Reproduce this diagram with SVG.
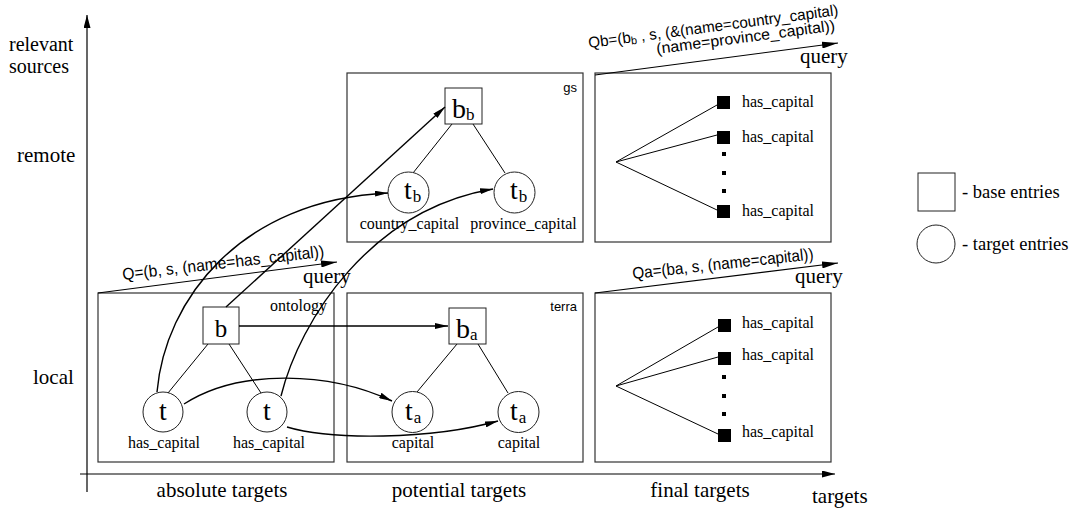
<svg xmlns="http://www.w3.org/2000/svg" width="1075" height="508" viewBox="0 0 1075 508">
<defs>
<marker id="ah" markerUnits="userSpaceOnUse" markerWidth="14" markerHeight="6" refX="13" refY="3" orient="auto"><path d="M0,0 L13,3 L0,6 Z" fill="#000"/></marker>
<marker id="qh" markerUnits="userSpaceOnUse" markerWidth="17" markerHeight="7" refX="16" refY="3.5" orient="auto"><path d="M0,0 L16,3.5 L0,7 Z" fill="#000"/></marker>
<marker id="xh" markerUnits="userSpaceOnUse" markerWidth="14" markerHeight="7" refX="13" refY="3.5" orient="auto"><path d="M0,0 L13,3.5 L0,7 Z" fill="#000"/></marker>
<style>
.box{fill:none;stroke:#333;stroke-width:1.2}
.node{fill:#fff;stroke:#222;stroke-width:1}
.edge{fill:none;stroke:#000;stroke-width:1}
.conn{fill:none;stroke:#000;stroke-width:1.4;marker-end:url(#ah)}
.qline{fill:none;stroke:#000;stroke-width:1.2;marker-end:url(#qh)}
.axis{fill:none;stroke:#000;stroke-width:1.2;marker-end:url(#xh)}
.tm{font-family:'Liberation Serif','Times New Roman',serif;fill:#000}
.hv{font-family:'Liberation Sans',Arial,sans-serif;fill:#000}
.ax{font-size:21px}
.lbl{font-size:16px}
.nt{font-size:28px}
.sub{font-size:17px}
.q{font-size:16.5px}
.res{fill:#000}
</style>
</defs>
<rect width="1075" height="508" fill="#fff"/>

<g id="axes">
<line class="axis" x1="87" y1="492" x2="87" y2="15"/>
<line class="axis" x1="80" y1="474" x2="835" y2="474"/>
<text class="tm" font-size="20" x="9" y="51">relevant</text>
<text class="tm" font-size="20" x="9" y="73">sources</text>
<text class="tm ax" x="17" y="162">remote</text>
<text class="tm ax" x="33" y="384">local</text>
<text class="tm ax" x="222" y="497" text-anchor="middle">absolute targets</text>
<text class="tm ax" x="459" y="497" text-anchor="middle">potential targets</text>
<text class="tm ax" x="700" y="497" text-anchor="middle">final targets</text>
<text class="tm ax" x="812" y="503">targets</text>
</g>

<g id="box-ontology">
<rect class="box" x="98" y="293" width="236" height="169"/>
<text class="tm lbl" x="327" y="311" text-anchor="end">ontology</text>
</g>
<g id="box-terra">
<rect class="box" x="347" y="293" width="236" height="169"/>
<text class="hv" font-size="13" x="577" y="311" text-anchor="end">terra</text>
</g>
<g id="box-gs">
<rect class="box" x="347" y="73" width="236" height="169"/>
<text class="hv" font-size="13" x="577" y="92" text-anchor="end">gs</text>
</g>
<g id="box-final-remote">
<rect class="box" x="595" y="73" width="236" height="169"/>
<line class="edge" x1="616" y1="162" x2="717" y2="105"/>
<line class="edge" x1="616" y1="162" x2="717" y2="135"/>
<line class="edge" x1="616" y1="162" x2="717" y2="210"/>
<rect class="res" x="717" y="96" width="13" height="13"/>
<rect class="res" x="717" y="131" width="13" height="13"/>
<rect class="res" x="717" y="205" width="13" height="13"/>
<rect class="res" x="722" y="152" width="4" height="4"/>
<rect class="res" x="722" y="171" width="4" height="4"/>
<rect class="res" x="722" y="189" width="4" height="4"/>
<text class="tm lbl" x="742" y="107">has_capital</text>
<text class="tm lbl" x="742" y="142">has_capital</text>
<text class="tm lbl" x="742" y="216">has_capital</text>
</g>
<g id="box-final-local">
<rect class="box" x="595" y="293" width="236" height="169"/>
<line class="edge" x1="616" y1="386" x2="718" y2="327"/>
<line class="edge" x1="616" y1="386" x2="718" y2="357"/>
<line class="edge" x1="616" y1="386" x2="718" y2="434"/>
<rect class="res" x="718" y="319" width="13" height="13"/>
<rect class="res" x="718" y="352" width="13" height="13"/>
<rect class="res" x="718" y="429" width="13" height="13"/>
<rect class="res" x="722" y="375" width="4" height="4"/>
<rect class="res" x="722" y="394" width="4" height="4"/>
<rect class="res" x="722" y="412" width="4" height="4"/>
<text class="tm lbl" x="742" y="328">has_capital</text>
<text class="tm lbl" x="742" y="360">has_capital</text>
<text class="tm lbl" x="742" y="437">has_capital</text>
</g>

<g id="tree-edges">
<line class="edge" x1="208" y1="344" x2="168" y2="393"/>
<line class="edge" x1="229" y1="344" x2="261" y2="393"/>
<line class="edge" x1="457" y1="344" x2="417" y2="392"/>
<line class="edge" x1="478" y1="344" x2="508" y2="393"/>
<line class="edge" x1="452" y1="124" x2="413" y2="173"/>
<line class="edge" x1="473" y1="124" x2="505" y2="173"/>
</g>

<g id="node-b">
<rect class="node" x="203" y="307" width="36" height="37"/>
<text class="tm" font-size="25" x="221" y="337" text-anchor="middle">b</text>
</g>
<g id="node-t1">
<circle class="node" cx="163" cy="412" r="20"/>
<text class="tm nt" x="163" y="420" text-anchor="middle">t</text>
<text class="tm lbl" x="164" y="448" text-anchor="middle">has_capital</text>
</g>
<g id="node-t2">
<circle class="node" cx="267" cy="412" r="20"/>
<text class="tm nt" x="267" y="420" text-anchor="middle">t</text>
<text class="tm lbl" x="269" y="448" text-anchor="middle">has_capital</text>
</g>
<g id="node-ba">
<rect class="node" x="449" y="308" width="37" height="36"/>
<text class="tm nt" x="456" y="338">b<tspan class="sub" dy="2">a</tspan></text>
</g>
<g id="node-ta1">
<circle class="node" cx="412.5" cy="412" r="20.5"/>
<text class="tm nt" x="405" y="420">t<tspan class="sub" dy="3" dx="1">a</tspan></text>
<text class="tm lbl" x="413" y="448" text-anchor="middle">capital</text>
</g>
<g id="node-ta2">
<circle class="node" cx="518.5" cy="412" r="20.5"/>
<text class="tm nt" x="510" y="420">t<tspan class="sub" dy="3" dx="1">a</tspan></text>
<text class="tm lbl" x="519" y="448" text-anchor="middle">capital</text>
</g>
<g id="node-bb">
<rect class="node" x="445" y="88" width="37" height="36"/>
<text class="tm nt" x="452" y="118">b<tspan class="sub" dy="2">b</tspan></text>
</g>
<g id="node-tb1">
<circle class="node" cx="408.5" cy="192.5" r="20.5"/>
<text class="tm nt" x="404" y="199">t<tspan class="sub" dy="3" dx="1">b</tspan></text>
<text class="tm lbl" x="409.5" y="229" text-anchor="middle">country_capital</text>
</g>
<g id="node-tb2">
<circle class="node" cx="514.5" cy="192.5" r="20.5"/>
<text class="tm nt" x="510" y="199">t<tspan class="sub" dy="3" dx="1">b</tspan></text>
<text class="tm lbl" x="523.5" y="229" text-anchor="middle">province_capital</text>
</g>

<g id="legend">
<rect class="node" x="918" y="173" width="37" height="38"/>
<text class="tm" font-size="18.5" x="962" y="198">- base entries</text>
<circle class="node" cx="936" cy="244" r="19"/>
<text class="tm" font-size="18.5" x="962" y="250">- target entries</text>
</g>

<g id="queries">
<line class="qline" x1="98" y1="293" x2="337" y2="262"/>
<text class="hv q" x="123" y="280" transform="rotate(-6.6 123 280)" textLength="203" lengthAdjust="spacingAndGlyphs">Q=(b, s, (name=has_capital))</text>
<text class="tm ax" x="303" y="283">query</text>
<line class="qline" x1="595" y1="293" x2="838" y2="263"/>
<text class="hv q" x="633" y="279" transform="rotate(-6.2 633 279)" textLength="182" lengthAdjust="spacingAndGlyphs">Qa=(ba, s, (name=capital))</text>
<text class="tm ax" x="795" y="283">query</text>
<line class="qline" x1="595" y1="75" x2="838" y2="43"/>
<text class="hv" font-size="15.5" x="589" y="48" transform="rotate(-7.5 589 48)" textLength="252" lengthAdjust="spacingAndGlyphs">Qb=(b<tspan font-size="11" dy="2">b</tspan><tspan dy="-2"> , s, (&amp;(name=country_capital)</tspan></text>
<text class="hv" font-size="15.5" x="657" y="54" transform="rotate(-7.5 657 54)" textLength="180" lengthAdjust="spacingAndGlyphs">(name=province_capital))</text>
<text class="tm ax" x="800" y="63">query</text>
</g>

<g id="connectors">
<path class="conn" d="M226,307 L445,107"/>
<path class="conn" d="M157,392 C165,300 240,200 388,193"/>
<path class="conn" d="M281,396 C300,320 370,210 493,189"/>
<path class="conn" d="M239,326 L448,326"/>
<path class="conn" d="M184,404 C240,368 330,372 392,401"/>
<path class="conn" d="M287,427 C330,440 430,440 498,421"/>
</g>
</svg>
